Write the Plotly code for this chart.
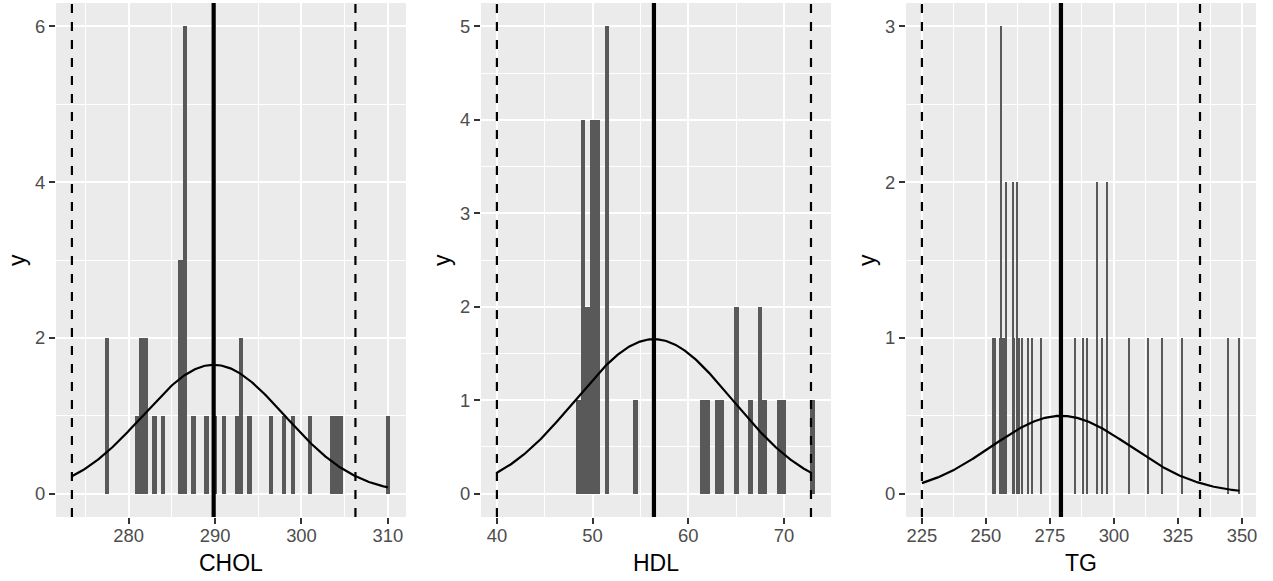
import numpy as np
import plotly.graph_objects as go
from plotly.subplots import make_subplots

# ── Histogram counts (bin width 0.5) ─────────────────────────────────────────
BIN_WIDTH = 0.5

CHOL_X = [277.5, 281, 281.5, 282, 283, 284, 286, 286.5, 287.5, 289, 290, 291,
          292.5, 293, 294, 296.5, 298, 299, 301, 303.5, 304, 304.5, 310]
CHOL_N = [2, 1, 2, 2, 1, 1, 3, 6, 1, 1, 1, 1,
          1, 2, 1, 1, 1, 1, 1, 1, 1, 1, 1]

HDL_X = [48.5, 49, 49.5, 50, 50.5, 51.5, 54.5, 61.5, 62, 63, 63.5,
         65, 66.5, 67.5, 68, 69.5, 70, 73]
HDL_N = [1, 4, 2, 4, 4, 5, 1, 1, 1, 1, 1,
         2, 1, 2, 1, 1, 1, 1]

TG_X = [253, 253.5, 255.5, 256, 256.5, 257, 258, 260.5, 261, 262, 263, 264,
        266.5, 268, 271.5, 285, 288, 289.5, 293.5, 295.5, 297.5, 306,
        313.5, 319, 326.5, 344.5, 349]
TG_N = [1, 1, 1, 3, 1, 1, 2, 2, 1, 2, 1, 1,
        1, 1, 1, 1, 1, 1, 2, 1, 2, 1,
        1, 1, 1, 1, 1]

# mean / sd / largest raw value per variable
VARS   = ["CHOL", "HDL", "TG"]
MEANS  = [289.84, 56.41, 279.3]
SDS    = [8.2, 8.205, 27.15]
MAXES  = [310.0, 72.85, 349.0]
N_OBS  = 34

X_TICKS = [[280, 290, 300, 310], [40, 50, 60, 70], [225, 250, 275, 300, 325, 350]]
Y_TICKS = [[0, 2, 4, 6], [0, 1, 2, 3, 4, 5], [0, 1, 2, 3]]

HIST_X = [CHOL_X, HDL_X, TG_X]
HIST_N = [CHOL_N, HDL_N, TG_N]

# ── Figure ───────────────────────────────────────────────────────────────────
W, H = 1273, 581
FONT = "Liberation Sans"
fig = make_subplots(rows=1, cols=3)

panel_left = [56, 481, 906]
panel_w = 350
y_dom = [(H - 517) / H, (H - 3) / H]

annotations = []
for i in range(3):
    col = i + 1
    xs, ns = np.array(HIST_X[i]), np.array(HIST_N[i])
    mu, sd = MEANS[i], SDS[i]
    lo, hi = mu - 2 * sd, mu + 2 * sd

    fig.add_trace(go.Bar(x=xs, y=ns, width=BIN_WIDTH, marker_color="#595959",
                         marker_line_width=0, showlegend=False), row=1, col=col)

    # normal curve scaled by the number of observations
    cx = np.linspace(lo, MAXES[i], 300)
    cy = N_OBS * np.exp(-0.5 * ((cx - mu) / sd) ** 2) / (sd * np.sqrt(2 * np.pi))
    fig.add_trace(go.Scatter(x=cx, y=cy, mode="lines", showlegend=False,
                             line=dict(color="black", width=2.2)), row=1, col=col)

    fig.add_vline(x=mu, line=dict(color="black", width=4.2), row=1, col=col)
    for v in (lo, hi):
        fig.add_vline(x=v, line=dict(color="black", width=2.2, dash="9px,9px"),
                      row=1, col=col)

    # ranges: data + lines, expanded 5% like ggplot
    xmin = min(lo, xs.min() - BIN_WIDTH / 2)
    xmax = max(hi, xs.max() + BIN_WIDTH / 2)
    xpad = (xmax - xmin) * 0.05
    ymax = ns.max()
    ypad = ymax * 0.05

    xt, yt = X_TICKS[i], Y_TICKS[i]
    x_major = xt[1] - xt[0]
    y_major = yt[1] - yt[0]
    axis_common = dict(
        showgrid=True, gridcolor="white", gridwidth=2.2, zeroline=False,
        showline=False, ticks="outside", ticklen=6, tickwidth=2.2, automargin=False,
        tickcolor="#333333", tickfont=dict(family=FONT, size=18.4, color="#4D4D4D"),
    )
    fig.update_xaxes(range=[xmin - xpad, xmax + xpad], tickvals=xt,
                     domain=[panel_left[i] / W, (panel_left[i] + panel_w) / W],
                     ticklabelstandoff=-4,
                     minor=dict(showgrid=True, gridcolor="white", gridwidth=1.1,
                                tick0=xt[0] - x_major / 2, dtick=x_major / 2, ticks=""),
                     **axis_common, row=1, col=col)
    fig.update_yaxes(range=[-ypad, ymax + ypad], tickvals=yt, domain=y_dom,
                     minor=dict(showgrid=True, gridcolor="white", gridwidth=1.1,
                                tick0=yt[0] - y_major / 2, dtick=y_major / 2, ticks=""),
                     **axis_common, row=1, col=col)

    annotations.append(dict(
        text=VARS[i], xref="paper", yref="paper", showarrow=False,
        x=(panel_left[i] + panel_w / 2) / W, y=(H - 563) / H,
        xanchor="center", yanchor="middle",
        font=dict(family=FONT, size=23, color="black")))
    annotations.append(dict(
        text="y", xref="paper", yref="paper", showarrow=False, textangle=-90,
        x=(panel_left[i] - 39) / W, y=(H - 260) / H,
        xanchor="center", yanchor="middle",
        font=dict(family=FONT, size=23, color="black")))

fig.update_layout(
    width=W, height=H, margin=dict(l=0, r=0, t=0, b=0, autoexpand=False),
    plot_bgcolor="#EBEBEB", paper_bgcolor="white",
    bargap=0, annotations=annotations,
    font=dict(family=FONT),
)
# drop the page's default body margin so the figure sits at the window corner
fig.write_html("out.html", config={"displayModeBar": False},
               post_script="document.body.style.margin='0';")
